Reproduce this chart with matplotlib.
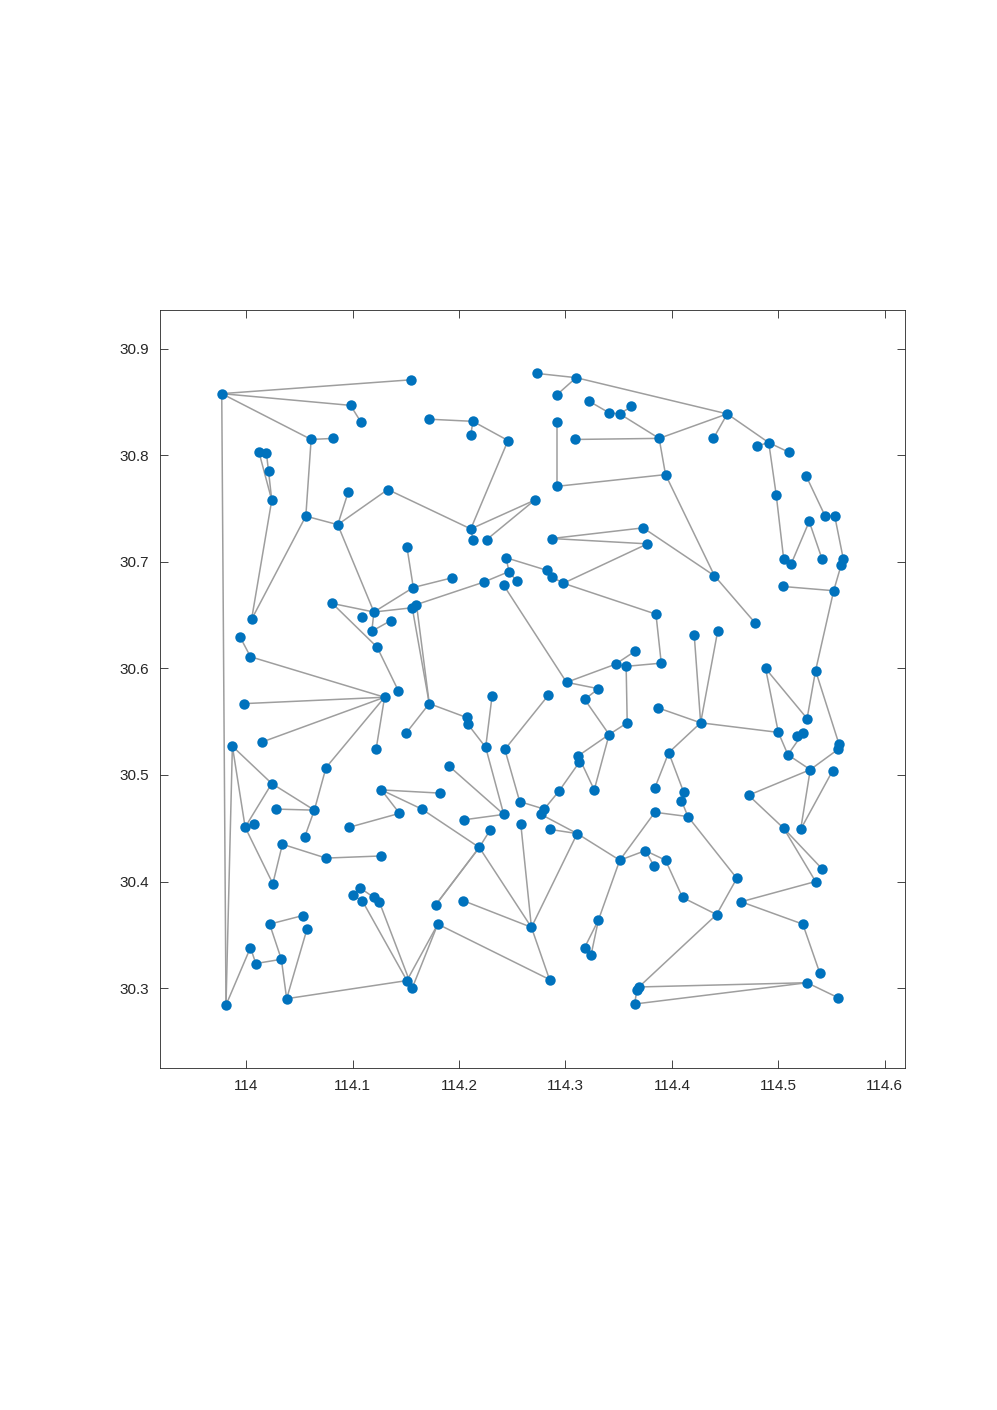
import matplotlib
matplotlib.use('Agg')
import matplotlib.pyplot as plt

# node coordinates (longitude, latitude)
lon = [113.977, 114.155, 114.098, 114.108, 114.061, 114.082, 114.012, 114.019, 114.021, 114.024,
       114.096, 114.133, 114.056, 114.086, 114.005, 113.981, 114.273, 114.310, 114.292, 114.322,
       114.341, 114.351, 114.362, 114.172, 114.213, 114.211, 114.246, 114.292, 114.309, 114.292,
       114.271, 114.211, 114.213, 114.226, 114.452, 114.439, 114.388, 114.480, 114.491, 114.510,
       114.394, 114.526, 114.498, 114.529, 114.544, 114.553, 114.373, 114.377, 114.440, 114.478,
       114.505, 114.512, 114.541, 114.561, 114.559, 114.504, 114.552, 114.385, 114.390, 114.365,
       114.421, 114.443, 114.488, 114.535, 114.151, 114.081, 114.109, 114.120, 114.136, 114.118,
       114.123, 114.157, 114.156, 114.160, 113.994, 114.004, 114.143, 114.130, 114.287, 114.244,
       114.247, 114.254, 114.242, 114.283, 114.287, 114.298, 114.193, 114.223, 114.301, 114.347,
       114.357, 114.331, 114.231, 114.284, 113.998, 114.015, 113.987, 114.122, 114.075, 114.150,
       114.024, 114.028, 114.064, 114.055, 113.999, 114.007, 114.127, 114.144, 114.165, 114.097,
       114.034, 114.075, 114.127, 114.025, 114.172, 114.207, 114.208, 114.225, 114.243, 114.191,
       114.182, 114.205, 114.242, 114.257, 114.258, 114.229, 114.219, 114.280, 114.277, 114.285,
       114.311, 114.351, 114.294, 114.312, 114.313, 114.327, 114.341, 114.358, 114.318, 114.387,
       114.427, 114.500, 114.518, 114.523, 114.509, 114.527, 114.530, 114.551, 114.557, 114.556,
       114.397, 114.384, 114.411, 114.409, 114.384, 114.415, 114.472, 114.505, 114.521, 114.375,
       114.383, 114.394, 114.410, 114.442, 114.461, 114.465, 114.523, 114.539, 114.527, 114.556,
       114.541, 114.535, 114.369, 114.367, 114.365, 114.100, 114.107, 114.109, 114.120, 114.125,
       114.022, 114.053, 114.057, 114.004, 114.009, 114.033, 114.038, 114.151, 114.156, 114.178,
       114.180, 114.204, 114.268, 114.285, 114.331, 114.318, 114.324]

lat = [30.858, 30.871, 30.847, 30.831, 30.815, 30.816, 30.803, 30.802, 30.785, 30.758,
       30.766, 30.768, 30.743, 30.735, 30.646, 30.284, 30.877, 30.873, 30.857, 30.851,
       30.840, 30.839, 30.846, 30.834, 30.832, 30.819, 30.814, 30.831, 30.815, 30.771,
       30.758, 30.731, 30.721, 30.721, 30.839, 30.816, 30.816, 30.809, 30.812, 30.803,
       30.782, 30.781, 30.763, 30.738, 30.743, 30.743, 30.732, 30.717, 30.687, 30.643,
       30.703, 30.698, 30.703, 30.703, 30.697, 30.677, 30.673, 30.651, 30.605, 30.616,
       30.631, 30.635, 30.600, 30.598, 30.714, 30.661, 30.648, 30.653, 30.645, 30.635,
       30.620, 30.676, 30.657, 30.660, 30.630, 30.611, 30.579, 30.573, 30.722, 30.704,
       30.691, 30.682, 30.678, 30.692, 30.686, 30.680, 30.685, 30.681, 30.587, 30.604,
       30.602, 30.581, 30.574, 30.575, 30.567, 30.531, 30.527, 30.524, 30.507, 30.539,
       30.492, 30.468, 30.467, 30.442, 30.451, 30.454, 30.486, 30.464, 30.468, 30.451,
       30.435, 30.422, 30.424, 30.398, 30.567, 30.554, 30.548, 30.526, 30.524, 30.508,
       30.483, 30.458, 30.463, 30.475, 30.454, 30.448, 30.432, 30.468, 30.463, 30.449,
       30.445, 30.420, 30.485, 30.518, 30.512, 30.486, 30.538, 30.549, 30.571, 30.563,
       30.549, 30.540, 30.537, 30.539, 30.519, 30.553, 30.505, 30.504, 30.529, 30.524,
       30.521, 30.488, 30.484, 30.476, 30.465, 30.461, 30.481, 30.450, 30.449, 30.429,
       30.415, 30.420, 30.385, 30.369, 30.403, 30.381, 30.360, 30.314, 30.305, 30.291,
       30.412, 30.400, 30.301, 30.298, 30.285, 30.387, 30.394, 30.382, 30.385, 30.381,
       30.360, 30.368, 30.355, 30.338, 30.323, 30.327, 30.290, 30.307, 30.300, 30.378,
       30.360, 30.382, 30.357, 30.308, 30.364, 30.338, 30.331]

# edges between nodes (index pairs)
edges = [(0, 1), (0, 2), (2, 3), (0, 4), (4, 5), (4, 12), (12, 13), (13, 10), (13, 11), (11, 31),
         (0, 15), (6, 9), (7, 8), (8, 9), (9, 14), (12, 14), (13, 67),
         (16, 17), (17, 18), (17, 34), (19, 20), (20, 21), (22, 21), (21, 36), (23, 24), (24, 25),
         (24, 26), (26, 31), (27, 29), (29, 40), (28, 36), (30, 31), (30, 33), (31, 32),
         (34, 35), (34, 36), (34, 38), (37, 38), (38, 39), (38, 42), (36, 40), (40, 48), (41, 44),
         (44, 45), (45, 53), (43, 51), (43, 52), (50, 42), (50, 51), (53, 54), (54, 56), (55, 56),
         (56, 63), (46, 78), (47, 78), (47, 85), (46, 48), (48, 49), (57, 85), (57, 58), (58, 90),
         (60, 140), (61, 140), (62, 141), (62, 145), (63, 145), (63, 148),
         (64, 71), (71, 67), (67, 65), (65, 70), (67, 69), (69, 68), (67, 72), (71, 86), (73, 87),
         (87, 80), (80, 79), (80, 81), (79, 83), (83, 84), (84, 85), (72, 114), (73, 114), (72, 73),
         (70, 76), (74, 75), (75, 77), (77, 94), (77, 95), (77, 98), (77, 97), (82, 88), (88, 89),
         (88, 91), (89, 59), (89, 90), (90, 137),
         (91, 138), (138, 136), (136, 137), (136, 135), (133, 135), (133, 136), (134, 132),
         (132, 127), (127, 123), (123, 118), (118, 93), (117, 122), (117, 92), (116, 117),
         (115, 116), (114, 115), (114, 99), (119, 122), (121, 122), (127, 128), (128, 130),
         (129, 130), (130, 131), (130, 192), (124, 192), (126, 192), (126, 189), (125, 126),
         (108, 126), (106, 107), (106, 108), (106, 120), (107, 109),
         (96, 100), (96, 104), (96, 15), (100, 102), (101, 102), (102, 103), (102, 98), (100, 104),
         (104, 105), (104, 113), (110, 113), (110, 111), (111, 112),
         (180, 181), (180, 185), (184, 185), (183, 184), (183, 15), (185, 186), (186, 182),
         (186, 187), (187, 177), (188, 179), (175, 176), (176, 178), (178, 179), (175, 177),
         (187, 188), (190, 187), (190, 188), (189, 126), (190, 193), (191, 192), (192, 193),
         (194, 131), (194, 195), (194, 196),
         (139, 140), (140, 141), (140, 150), (150, 151), (150, 152), (152, 153), (153, 155),
         (154, 155), (155, 164), (154, 131), (131, 159), (159, 160), (159, 161), (161, 162),
         (162, 163), (163, 164), (163, 172), (172, 168), (174, 168), (173, 174), (168, 169),
         (166, 167), (165, 166), (165, 171), (171, 157), (170, 157), (157, 156), (156, 146),
         (146, 144), (144, 141), (144, 143), (142, 143), (146, 149), (148, 149), (146, 158),
         (147, 158)]

fig = plt.figure(figsize=(9.97, 14.10), dpi=100)
ax = fig.add_axes([0.1605, 0.2426, 0.7472, 0.5376])

for i, j in edges:
    ax.plot([lon[i], lon[j]], [lat[i], lat[j]], color=(0.62, 0.62, 0.62), lw=1.1, zorder=1)

ax.plot(lon, lat, 'o', color='#0072BD', markersize=7.5, markeredgewidth=0, zorder=2)

ax.set_xlim(113.919, 114.619)
ax.set_ylim(30.225, 30.9366)
ax.set_xticks([114, 114.1, 114.2, 114.3, 114.4, 114.5, 114.6])
ax.set_xticklabels(['114', '114.1', '114.2', '114.3', '114.4', '114.5', '114.6'])
ax.set_yticks([30.3, 30.4, 30.5, 30.6, 30.7, 30.8, 30.9])
ax.set_yticklabels(['30.3', '30.4', '30.5', '30.6', '30.7', '30.8', '30.9'])
ax.tick_params(direction='in', top=True, right=True, length=6, width=0.6,
               labelsize=11, colors='#262626', pad=8)
for s in ax.spines.values():
    s.set_linewidth(0.6)
    s.set_color('#262626')
for lab in ax.get_xticklabels() + ax.get_yticklabels():
    lab.set_fontfamily('Liberation Sans')

fig.savefig('out.png', dpi=100)
